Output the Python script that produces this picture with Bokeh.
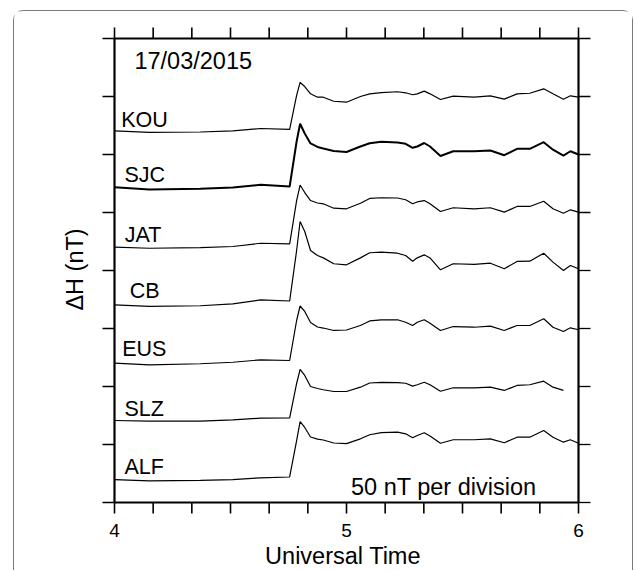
import math
from bokeh.plotting import figure
from bokeh.models import Range1d
from bokeh.core.properties import value
from bokeh.embed import file_html
from bokeh.resources import INLINE

FONT = "Liberation Sans"
nan = float("nan")

# Universal Time (hours)
times = [4.0, 4.15, 4.37, 4.51, 4.63, 4.755, 4.785, 4.80, 4.82, 4.845, 4.875, 4.90,
         4.945, 5.0, 5.06, 5.10, 5.15, 5.22, 5.255, 5.285, 5.305, 5.335, 5.36, 5.405,
         5.46, 5.55, 5.62, 5.68, 5.735, 5.79, 5.85, 5.89, 5.935, 5.965, 6.0]

# Stacked Delta H traces (nT, 50 nT per division)
kou = [320.4, 319.0, 319.4, 320.3, 322.4, 321.6, 350.9, 362.1, 358.6, 352.3, 349.4, 349.4,
       345.9, 345.1, 350.0, 352.3, 353.4, 354.1, 353.2, 351.5, 352.3, 354.6, 352.3, 347.4,
       350.3, 349.4, 350.6, 347.7, 352.3, 352.8, 356.6, 352.3, 347.7, 350.6, 349.4]
sjc = [271.8, 269.8, 270.4, 271.6, 273.9, 272.4, 311.2, 326.5, 318.1, 309.5, 306.5, 305.2,
       303.0, 302.2, 306.9, 309.7, 310.9, 310.3, 309.2, 305.8, 306.9, 309.9, 306.9, 298.7,
       302.8, 302.8, 303.4, 299.4, 304.9, 304.9, 310.6, 304.1, 299.1, 302.8, 300.0]
jat = [220.1, 219.2, 219.8, 220.7, 223.5, 223.0, 260.3, 273.7, 267.2, 260.3, 258.2, 257.5,
       253.7, 253.2, 258.0, 262.1, 262.7, 262.5, 261.0, 257.5, 259.1, 260.3, 257.5, 250.9,
       254.1, 253.2, 254.1, 250.3, 255.2, 255.2, 259.7, 253.2, 249.4, 252.3, 250.3]
cb = [170.4, 169.0, 169.6, 171.3, 174.6, 173.7, 217.2, 242.2, 233.6, 217.2, 212.9, 210.9,
      205.8, 204.9, 210.9, 215.3, 215.8, 214.9, 212.9, 208.0, 210.9, 213.5, 210.8, 200.6,
      205.8, 205.2, 206.3, 201.5, 207.8, 208.0, 214.9, 207.2, 200.0, 204.3, 201.5]
eus = [120.1, 118.7, 119.6, 120.9, 123.0, 122.4, 156.9, 169.4, 164.7, 155.2, 151.3, 150.4,
       148.3, 148.7, 152.6, 156.5, 157.5, 157.5, 155.4, 152.6, 155.4, 157.5, 154.6, 148.3,
       151.7, 151.1, 152.0, 148.3, 152.6, 152.6, 158.4, 151.1, 147.4, 150.6, 148.9]
slz = [70.7, 70.1, 70.1, 71.3, 72.7, 73.0, 102.6, 114.7, 109.5, 100.0, 98.3, 97.2,
       95.7, 95.7, 99.4, 103.0, 103.6, 103.4, 102.8, 100.3, 101.5, 103.7, 101.5, 95.9,
       98.9, 98.9, 99.4, 96.6, 100.9, 101.5, 104.6, 99.4, 96.6, nan, nan]
alf = [19.8, 18.7, 19.0, 19.8, 21.3, 22.0, 53.4, 69.8, 64.7, 56.5, 54.6, 53.9,
       51.3, 50.7, 54.9, 58.4, 60.3, 60.6, 59.2, 55.8, 57.8, 60.1, 57.3, 51.1,
       54.1, 54.1, 54.9, 51.5, 56.3, 56.3, 62.1, 56.3, 52.0, 54.1, 51.1]

stations = ["KOU", "SJC", "JAT", "CB", "EUS", "SLZ", "ALF"]
label_x = [4.029, 4.043, 4.044, 4.066, 4.033, 4.043, 4.043]
label_y = [330, 282, 231, 182, 132, 81, 31]

# axis ticks: every 10 minutes on x (labels on whole hours), every 50 nT on y
x_ticks = [4 + k / 6 for k in range(13)]
x_tick_labels = ["4", "5", "6"]
x_label_pos = [4, 5, 6]
y_ticks = [0, 50, 100, 150, 200, 250, 300, 350, 400]

# layout in pixels of the plotting box (canvas is 620x560, box 464x464)
PX_H = 232.0      # pixels per hour
PX_NT = 1.16      # pixels per nT
BOX_L, BOX_T = 100, 27
CANVAS_W, CANVAS_H = 620, 560
x_lo = 4 - BOX_L / PX_H
x_hi = x_lo + CANVAS_W / PX_H
y_hi = 400 + BOX_T / PX_NT
y_lo = y_hi - CANVAS_H / PX_NT
XT = 11 / PX_NT   # x tick length (data units)
YT = 12 / PX_H    # y tick length (data units)

p = figure(width=CANVAS_W, height=CANVAS_H, output_backend="svg", toolbar_location=None,
           x_range=Range1d(x_lo, x_hi), y_range=Range1d(y_lo, y_hi),
           min_border=0, x_axis_type=None, y_axis_type=None)
p.margin = (10, 0, 0, 13)
p.styles = {"border-top": "1px solid #7a7a7a", "border-left": "1px solid #7a7a7a",
            "border-right": "1px solid #7a7a7a", "border-radius": "10px 10px 0 0"}
p.grid.visible = False
p.outline_line_color = None
p.background_fill_color = "white"
p.border_fill_color = "white"

# x ticks (outward, top and bottom) drawn as one broken polyline each
bx, by, tx, ty = [], [], [], []
for t in x_ticks:
    bx += [t, t, nan]
    by += [0, -XT, nan]
    tx += [t, t, nan]
    ty += [400, 400 + XT, nan]
p.line(bx, by, line_color="black", line_width=1.6)
p.line(tx, ty, line_color="black", line_width=1.6)

# y ticks (outward, left and right)
p.segment(x0=[4] * len(y_ticks), y0=y_ticks, x1=[4 - YT] * len(y_ticks), y1=y_ticks,
          line_color="black", line_width=1.3)
p.segment(x0=[6] * len(y_ticks), y0=y_ticks, x1=[6 + YT] * len(y_ticks), y1=y_ticks,
          line_color="black", line_width=1.3)

# plotting box
p.line([4, 6, 6, 4, 4], [0, 0, 400, 400, 0], line_color="black", line_width=2.2)

series = [kou, sjc, jat, cb, eus, slz, alf]
widths = [1.2, 2.0, 1.2, 1.2, 1.2, 1.2, 1.2]
for s, w in zip(series, widths):
    p.line(times, s, line_color="black", line_width=w)

p.text(x=label_x, y=label_y, text=stations, text_font=value(FONT),
       text_font_size="21.5px", text_color="black",
       text_align="left", text_baseline="alphabetic")

p.text(x=[4.086], y=[381], text=["17/03/2015"], text_font=value(FONT),
       text_font_size="23.5px", text_color="black",
       text_align="left", text_baseline="alphabetic")
p.text(x=[5.419], y=[13.5], text=["50 nT per division"], text_font=value(FONT),
       text_font_size="23.5px", text_color="black",
       text_align="center", text_baseline="alphabetic")

# tick labels and axis titles
p.text(x=x_label_pos, y=[-23.9] * 3, text=x_tick_labels, text_font=value(FONT),
       text_font_size="19px", text_color="black",
       text_align="center", text_baseline="alphabetic")
p.text(x=[4.985], y=[-46.0], text=["Universal Time"], text_font=value(FONT),
       text_font_size="23.5px", text_color="black",
       text_align="center", text_baseline="alphabetic")
p.text(x=[3.8276], y=[200.9], text=["ΔH (nT)"], angle=math.pi / 2,
       text_font=value(FONT), text_font_size="23.5px", text_color="black",
       text_align="center", text_baseline="middle")

open("out.html", "w").write(file_html(p, INLINE))
